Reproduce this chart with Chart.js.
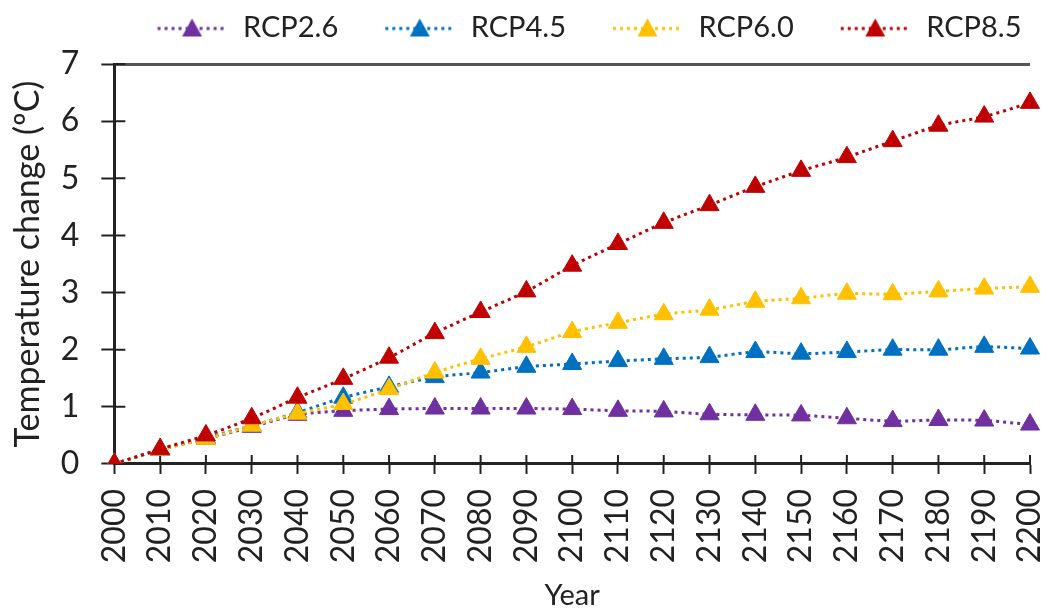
<!DOCTYPE html>
<html>
<head>
<meta charset="utf-8">
<script src="https://cdn.jsdelivr.net/npm/chart.js@4"></script>
<style>
  body { margin: 0; background: #fff; }
  #wrap { width: 1047px; height: 609px; }
</style>
</head>
<body>
<div id="wrap"><canvas id="myChart"></canvas></div>
<script>
const years = ['2000', '2010', '2020', '2030', '2040', '2050', '2060', '2070', '2080', '2090', '2100',
               '2110', '2120', '2130', '2140', '2150', '2160', '2170', '2180', '2190', '2200'];
const rcp26 = [0, 0.25, 0.44, 0.65, 0.86, 0.93, 0.96, 0.97, 0.97, 0.97, 0.96,
               0.93, 0.92, 0.87, 0.86, 0.85, 0.8, 0.75, 0.77, 0.76, 0.69];
const rcp45 = [0, 0.25, 0.46, 0.67, 0.9, 1.16, 1.35, 1.52, 1.6, 1.7, 1.75,
               1.8, 1.84, 1.87, 1.96, 1.93, 1.96, 2.0, 2.0, 2.05, 2.02];
const rcp60 = [0, 0.25, 0.44, 0.67, 0.88, 1.05, 1.31, 1.6, 1.84, 2.05, 2.31,
               2.47, 2.62, 2.7, 2.84, 2.9, 2.98, 2.97, 3.02, 3.07, 3.1];
const rcp85 = [0, 0.26, 0.5, 0.8, 1.16, 1.49, 1.86, 2.29, 2.66, 3.02, 3.47,
               3.85, 4.22, 4.53, 4.85, 5.13, 5.37, 5.65, 5.92, 6.08, 6.32];
const yTicks = [0, 1, 2, 3, 4, 5, 6, 7];

const FONT = "Lato, 'Open Sans', sans-serif";
const SAMPLE_W = 108;   // legend box width, blank on the left, dotted sample on the right

// legend sample: dotted line with a triangle in the middle
function legendSample(color) {
    const c = document.createElement('canvas');
    c.width = SAMPLE_W; c.height = 24;
    const g = c.getContext('2d');
    const x0 = 37, x1 = 106, mid = (x0 + x1) / 2;
    g.strokeStyle = color;
    g.lineWidth = 3;
    g.setLineDash([3, 4]);
    g.beginPath(); g.moveTo(x0, 13); g.lineTo(x1, 13); g.stroke();
    g.setLineDash([]);
    g.fillStyle = color;
    g.beginPath(); g.moveTo(mid, 3); g.lineTo(mid + 10, 21); g.lineTo(mid - 10, 21); g.closePath(); g.fill();
    return c;
}

const tweaks = {
    id: 'tweaks',
    afterLayout(chart) {
        // nudge the legend row: right and up
        const lg = chart.legend;
        lg.left += 56; lg.right += 56;
        lg.top -= 12; lg.bottom -= 12;
    },
    // tick marks that cross the axis line
    beforeDatasetsDraw(chart) {
        const { ctx, scales: { x, y } } = chart;
        ctx.save();
        ctx.strokeStyle = '#222';
        ctx.lineWidth = 2;
        ctx.beginPath();
        x.ticks.forEach((t, i) => {
            const px = x.getPixelForTick(i);
            ctx.moveTo(px, y.bottom); ctx.lineTo(px, y.bottom - 9);
        });
        y.ticks.forEach((t, i) => {
            const py = y.getPixelForTick(i);
            ctx.moveTo(x.left, py); ctx.lineTo(x.left + 11, py);
        });
        ctx.stroke();
        ctx.restore();
    }
};

const series = [
    { label: 'RCP2.6', data: rcp26, color: '#7030A0', order: 4 },
    { label: 'RCP4.5', data: rcp45, color: '#0070C0', order: 3 },
    { label: 'RCP6.0', data: rcp60, color: '#FFC000', order: 2 },
    { label: 'RCP8.5', data: rcp85, color: '#C00000', order: 1 }
];

const ctx = document.getElementById('myChart').getContext('2d');
const myChart = new Chart(ctx, {
    type: 'line',
    data: {
        labels: years,
        datasets: series.map(s => ({
            label: s.label,
            data: s.data,
            order: s.order,
            borderColor: s.color,
            backgroundColor: s.color,
            borderWidth: 3,
            borderDash: [3, 4],
            pointStyle: 'triangle',
            pointRadius: 11,
            pointBorderWidth: 1,
            pointBackgroundColor: s.color,
            pointBorderColor: s.color,
            tension: 0.3,
            fill: false
        }))
    },
    options: {
        responsive: true,
        maintainAspectRatio: false,
        animation: false,
        layout: { padding: { left: 0, right: 17, top: 15, bottom: 0 } },
        plugins: {
            tooltip: { enabled: false },
            legend: {
                position: 'top',
                labels: {
                    usePointStyle: true,
                    pointStyleWidth: SAMPLE_W,
                    padding: 10,
                    color: '#222',
                    font: { family: FONT, size: 29 },
                    generateLabels(chart) {
                        return chart.data.datasets.map((d, i) => ({
                            text: d.label,
                            pointStyle: legendSample(d.borderColor),
                            datasetIndex: i,
                            fontColor: '#222',
                            hidden: false,
                            lineWidth: 0,
                            strokeStyle: 'transparent',
                            fillStyle: d.borderColor
                        }));
                    }
                }
            }
        },
        scales: {
            x: {
                offset: false,
                afterFit(scale) { scale.paddingRight = 0; },
                border: { color: '#222', width: 3 },
                grid: { drawOnChartArea: false, tickLength: 10, tickColor: '#222', tickWidth: 2 },
                ticks: {
                    minRotation: 90, maxRotation: 90, autoSkip: false,
                    color: '#222', padding: 15,
                    font: { family: FONT, size: 32 }
                },
                title: {
                    display: true, text: 'Year', color: '#222',
                    padding: { top: 0, bottom: -4 },
                    font: { family: FONT, size: 29 }
                }
            },
            y: {
                min: 0, max: 7,
                afterBuildTicks(axis) { axis.ticks = yTicks.map(v => ({ value: v })); },
                border: { color: '#222', width: 3 },
                grid: {
                    color: c => c.tick && c.tick.value === 7 ? '#555' : 'transparent',
                    lineWidth: 3,
                    tickLength: 13, tickColor: '#222', tickWidth: 2
                },
                ticks: {
                    color: '#222', padding: 22,
                    font: { family: FONT, size: 32 }
                },
                title: {
                    display: true, text: 'Temperature change (ºC)', color: '#222',
                    padding: { top: 8, bottom: -10 },
                    font: { family: FONT, size: 34 }
                }
            }
        }
    },
    plugins: [tweaks]
});
</script>
</body>
</html>
